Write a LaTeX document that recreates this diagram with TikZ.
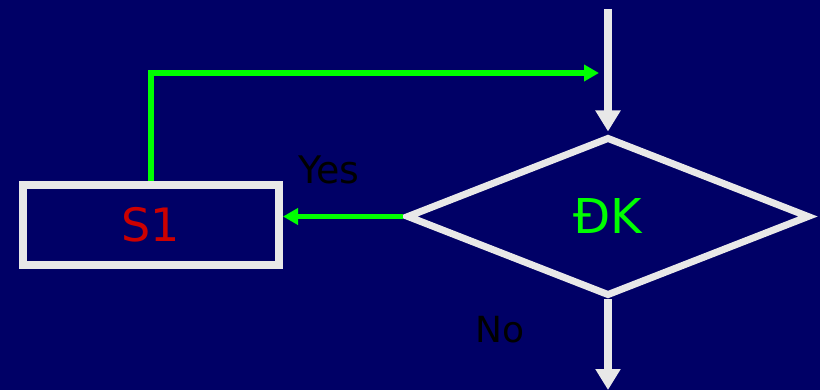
\documentclass[tikz,border=0pt]{standalone}
\usepackage{fontspec}
\setmainfont{DejaVu Sans}
\usetikzlibrary{arrows.meta,shapes.geometric}
\definecolor{navy}{RGB}{0,0,102}
\definecolor{pale}{RGB}{232,232,232}
\definecolor{lime}{RGB}{0,255,0}
\definecolor{darkred}{RGB}{204,0,0}
\tikzset{
  flowline/.style={draw=pale, line width=8pt, -{Triangle[width=24pt,length=21pt]}},
  yesline/.style={draw=lime, line width=5.5pt, -{Triangle[width=16pt,length=15pt]}},
  stepbox/.style={draw=pale, line width=8pt, minimum width=256pt, minimum height=80pt, inner sep=0pt},
  testbox/.style={diamond, draw=pale, line width=7pt, minimum width=403pt, minimum height=159pt, inner sep=0pt},
  smalltext/.style={text=black},
}
\begin{document}
\begin{tikzpicture}[x=1pt, y=-1pt]
  \fill[navy] (0,0) rectangle (820,390);
  \useasboundingbox (0,0) rectangle (820,390);

  % blocks
  \node[stepbox, font=\fontsize{46}{55}\selectfont, text=darkred] (s1) at (151,225) {S1};
  \node[testbox, font=\fontsize{48}{58}\selectfont, text=lime] (dk) at (608,216.5) {ĐK};

  % labels
  \node[smalltext, font=\fontsize{38}{46}\selectfont] (yes) at (329,170) {Yes};
  \node[smalltext, font=\fontsize{36}{43}\selectfont] (no) at (500,330) {No};

  % free ends
  \coordinate (entry) at (608,9);
  \coordinate (exit) at (608,390);
  \coordinate (back) at (599,73);

  % connectors
  \draw[flowline, shorten >=2pt] (entry) -- (dk.north);
  \draw[flowline] (dk.south) -- (exit);
  \draw[yesline] (dk.west) -- (dk.west -| s1.east);
  \draw[yesline] (s1.north) |- (back);
\end{tikzpicture}
\end{document}
